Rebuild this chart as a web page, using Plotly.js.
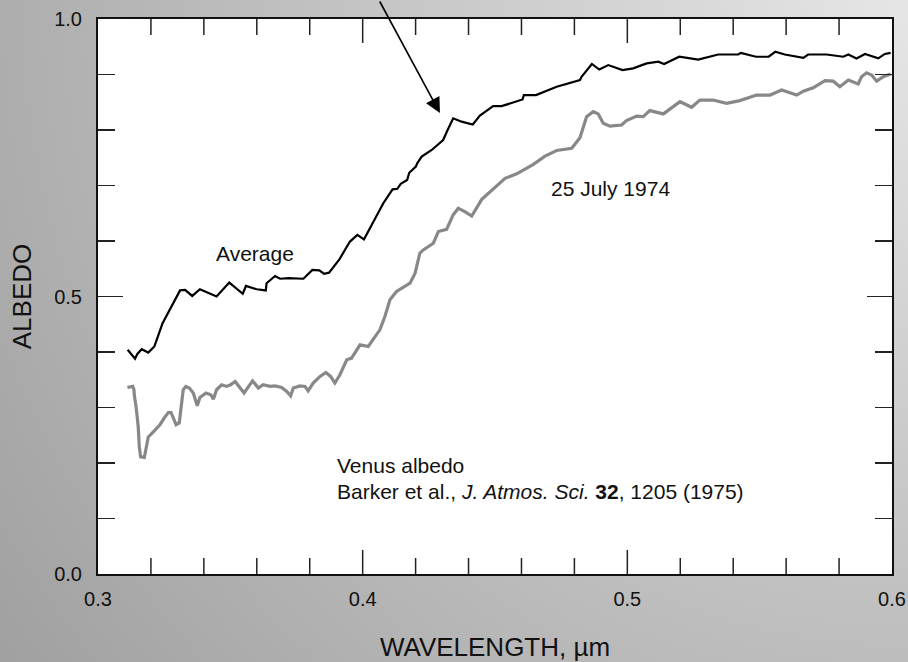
<!DOCTYPE html>
<html>
<head>
<meta charset="utf-8">
<script src="https://cdn.plot.ly/plotly-3.0.1.min.js"></script>
<style>
  html, body { margin: 0; padding: 0; }
  body {
    width: 908px; height: 662px; overflow: hidden;
    background: radial-gradient(circle at 100% 0%, #e6e6e6 0px, #a0a0a0 1124px);
  }
  #chart { width: 908px; height: 662px; }
</style>
</head>
<body>
<div id="chart"></div>
<script>
// Venus albedo spectra (Barker et al. 1975)
// Average albedo: wavelength (µm) and albedo
const avgWavelength = [
  0.3112, 0.3140, 0.3148, 0.3165, 0.3190, 0.3213, 0.3244, 0.3272, 0.3310, 0.3329,
  0.3356, 0.3385, 0.3417, 0.3448, 0.3496, 0.3547, 0.3559, 0.3600, 0.3634, 0.3637,
  0.3669, 0.3688, 0.3719, 0.3776, 0.3810, 0.3836, 0.3854, 0.3873, 0.3912, 0.3952,
  0.3980, 0.4005, 0.4034, 0.4078, 0.4113, 0.4131, 0.4144, 0.4168, 0.4176, 0.4201,
  0.4206, 0.4223, 0.4261, 0.4304, 0.4321, 0.4342, 0.4374, 0.4416, 0.4443, 0.4493,
  0.4525, 0.4604, 0.4609, 0.4655, 0.4733, 0.4821, 0.4827, 0.4866, 0.4894, 0.4928,
  0.4982, 0.5022, 0.5073, 0.5117, 0.5139, 0.5196, 0.5268, 0.5343, 0.5419, 0.5429,
  0.5486, 0.5534, 0.5559, 0.5595, 0.5665, 0.5683, 0.5753, 0.5816, 0.5835, 0.5866,
  0.5898, 0.5923, 0.5948, 0.5973, 0.5995
];
const avgAlbedo = [
  0.404, 0.388, 0.396, 0.405, 0.399, 0.410, 0.452, 0.478, 0.511, 0.512,
  0.501, 0.513, 0.506, 0.500, 0.525, 0.505, 0.519, 0.513, 0.511, 0.524,
  0.537, 0.532, 0.533, 0.532, 0.548, 0.547, 0.541, 0.543, 0.567, 0.599,
  0.611, 0.603, 0.629, 0.668, 0.693, 0.694, 0.703, 0.710, 0.723, 0.734,
  0.740, 0.752, 0.764, 0.782, 0.800, 0.821, 0.815, 0.810, 0.826, 0.843,
  0.843, 0.855, 0.863, 0.863, 0.878, 0.890, 0.896, 0.919, 0.909, 0.917,
  0.908, 0.911, 0.920, 0.923, 0.919, 0.932, 0.927, 0.936, 0.936, 0.939,
  0.932, 0.932, 0.941, 0.936, 0.930, 0.936, 0.936, 0.932, 0.936, 0.929,
  0.937, 0.933, 0.929, 0.937, 0.939
];

// 25 July 1974 albedo
const julWavelength = [
  0.3111, 0.3131, 0.3136, 0.3137, 0.3144, 0.3152, 0.3156, 0.3161, 0.3175, 0.3181,
  0.3190, 0.3209, 0.3234, 0.3253, 0.3266, 0.3276, 0.3284, 0.3295, 0.3307, 0.3314,
  0.3322, 0.3332, 0.3345, 0.3360, 0.3375, 0.3385, 0.3408, 0.3426, 0.3436, 0.3448,
  0.3467, 0.3486, 0.3501, 0.3518, 0.3536, 0.3552, 0.3562, 0.3584, 0.3606, 0.3624,
  0.3650, 0.3669, 0.3694, 0.3713, 0.3728, 0.3738, 0.3763, 0.3782, 0.3794, 0.3813,
  0.3839, 0.3861, 0.3879, 0.3895, 0.3914, 0.3927, 0.3940, 0.3958, 0.3990, 0.4021,
  0.4065, 0.4084, 0.4103, 0.4128, 0.4179, 0.4198, 0.4216, 0.4229, 0.4267, 0.4286,
  0.4317, 0.4342, 0.4361, 0.4386, 0.4412, 0.4450, 0.4487, 0.4519, 0.4538, 0.4582,
  0.4620, 0.4645, 0.4689, 0.4733, 0.4790, 0.4821, 0.4846, 0.4871, 0.4890, 0.4909,
  0.4934, 0.4978, 0.4997, 0.5035, 0.5060, 0.5085, 0.5136, 0.5199, 0.5243, 0.5274,
  0.5324, 0.5375, 0.5425, 0.5488, 0.5539, 0.5583, 0.5640, 0.5665, 0.5702, 0.5747,
  0.5778, 0.5803, 0.5835, 0.5872, 0.5885, 0.5904, 0.5923, 0.5942, 0.5967, 0.5995
];
const julAlbedo = [
  0.336, 0.338, 0.332, 0.323, 0.301, 0.265, 0.229, 0.211, 0.210, 0.223,
  0.247, 0.256, 0.269, 0.283, 0.291, 0.291, 0.283, 0.269, 0.272, 0.301,
  0.332, 0.338, 0.335, 0.326, 0.303, 0.318, 0.326, 0.323, 0.315, 0.332,
  0.341, 0.338, 0.341, 0.347, 0.336, 0.326, 0.333, 0.348, 0.335, 0.341,
  0.338, 0.339, 0.336, 0.329, 0.321, 0.335, 0.339, 0.338, 0.330, 0.344,
  0.356, 0.363, 0.356, 0.344, 0.359, 0.374, 0.386, 0.389, 0.413, 0.410,
  0.440, 0.464, 0.494, 0.509, 0.524, 0.542, 0.578, 0.584, 0.596, 0.617,
  0.621, 0.647, 0.659, 0.653, 0.645, 0.675, 0.691, 0.705, 0.713, 0.721,
  0.731, 0.738, 0.753, 0.763, 0.767, 0.786, 0.824, 0.833, 0.829, 0.812,
  0.807, 0.809, 0.817, 0.825, 0.824, 0.835, 0.829, 0.851, 0.841, 0.854,
  0.854, 0.848, 0.853, 0.863, 0.863, 0.872, 0.863, 0.870, 0.876, 0.889,
  0.888, 0.878, 0.890, 0.883, 0.896, 0.903, 0.899, 0.888, 0.896, 0.901
];

// Axis ticks (labelled major ticks and unlabelled minor ticks)
const xTickVals = [0.3, 0.4, 0.5, 0.6];
const xTickText = ['0.3', '0.4', '0.5', '0.6'];
const xMinorVals = [0.32, 0.34, 0.36, 0.38, 0.42, 0.44, 0.46, 0.48, 0.52, 0.54, 0.56, 0.58];
const yTickVals = [0.0, 0.5, 1.0];
const yTickText = ['0.0', '0.5', '1.0'];

const FONT = 'Liberation Sans, Arial, Helvetica, sans-serif';
const INK = '#111111';
const TICK = '#222222';

const MARGIN = { l: 98, r: 16, t: 19, b: 88, pad: 0 };
const PLOT_H = 662 - MARGIN.t - MARGIN.b;

const traces = [
  {
    x: julWavelength, y: julAlbedo, type: 'scatter', mode: 'lines',
    name: '25 July 1974',
    line: { color: '#888888', width: 3.2, shape: 'linear' },
    hoverinfo: 'x+y'
  },
  {
    x: avgWavelength, y: avgAlbedo, type: 'scatter', mode: 'lines',
    name: 'Average',
    line: { color: '#000000', width: 2.2, shape: 'linear' },
    hoverinfo: 'x+y'
  }
];

// Inward wavelength tick marks on the bottom and top frame edges,
// placed at the tick values along the x axis.
function frameTicks(vals, lenPx) {
  const f = lenPx / PLOT_H;
  const out = [];
  vals.forEach(function (v) {
    out.push({ type: 'line', xref: 'x', yref: 'paper', x0: v, x1: v, y0: 0, y1: f,
               line: { color: TICK, width: 1.5 }, layer: 'above' });
    out.push({ type: 'line', xref: 'x', yref: 'paper', x0: v, x1: v, y0: 1, y1: 1 - f,
               line: { color: TICK, width: 1.5 }, layer: 'above' });
  });
  return out;
}
const tickShapes = frameTicks(xTickVals.slice(1, -1), 24).concat(frameTicks(xMinorVals, 16));

const layout = {
  width: 908, height: 662,
  margin: MARGIN,
  paper_bgcolor: 'rgba(0,0,0,0)',
  plot_bgcolor: '#ffffff',
  showlegend: false,
  font: { family: FONT, color: INK },
  xaxis: {
    range: [0.3, 0.6], tickmode: 'array', tickvals: xTickVals, ticktext: xTickText,
    ticks: 'inside', ticklen: 24, tickwidth: 1.5, tickcolor: TICK,
    showline: true, linecolor: '#111', linewidth: 2, mirror: 'ticks',
    showgrid: false, zeroline: false,
    tickfont: { family: FONT, size: 20, color: INK },
    ticklabelstandoff: 6,
    title: { text: 'WAVELENGTH, µm', font: { family: FONT, size: 26, color: INK }, standoff: 31 }
  },
  yaxis: {
    range: [0, 1], tickmode: 'array', tickvals: yTickVals, ticktext: yTickText,
    ticks: 'inside', ticklen: 25, tickwidth: 1.5, tickcolor: TICK,
    showline: true, linecolor: '#111', linewidth: 2, mirror: 'ticks',
    showgrid: false, zeroline: false,
    tickfont: { family: FONT, size: 20, color: INK },
    ticklabelstandoff: 10,
    minor: { dtick: 0.1, ticks: 'inside', ticklen: 17, tickwidth: 1.5, tickcolor: TICK },
    title: { text: 'ALBEDO', font: { family: FONT, size: 26, color: INK }, standoff: 15 }
  },
  shapes: tickShapes,
  annotations: [
    { x: 0.4292, y: 0.8306, xref: 'x', yref: 'y', text: '', showarrow: true,
      arrowhead: 2, arrowsize: 1.9, arrowwidth: 1.6, arrowcolor: '#000',
      ax: -61, ay: -119 },
    { x: 0.3593, y: 0.578, xref: 'x', yref: 'y', text: 'Average', showarrow: false,
      xanchor: 'center', yanchor: 'middle', font: { family: FONT, size: 21, color: INK } },
    { x: 0.4938, y: 0.695, xref: 'x', yref: 'y', text: '25 July 1974', showarrow: false,
      xanchor: 'center', yanchor: 'middle', font: { family: FONT, size: 21, color: INK } },
    { x: 0.3895, y: 0.196, xref: 'x', yref: 'y', text: 'Venus albedo', showarrow: false,
      xanchor: 'left', yanchor: 'middle', font: { family: FONT, size: 21, color: INK } },
    { x: 0.3895, y: 0.148, xref: 'x', yref: 'y',
      text: 'Barker et al., <i>J. Atmos. Sci.</i> <b>32</b>, 1205 (1975)', showarrow: false,
      xanchor: 'left', yanchor: 'middle', font: { family: FONT, size: 21, color: INK } }
  ]
};

Plotly.newPlot('chart', traces, layout, { displayModeBar: false, staticPlot: true });
</script>
</body>
</html>
